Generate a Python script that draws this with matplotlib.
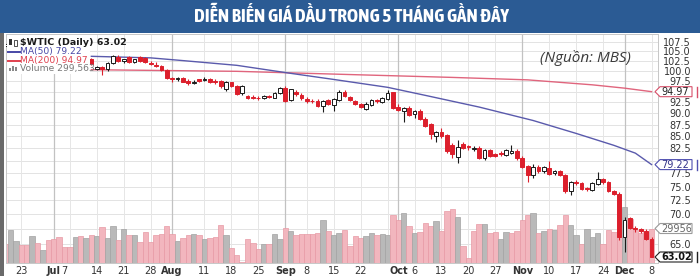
import matplotlib
matplotlib.use("Agg")
import matplotlib.pyplot as plt
from matplotlib.patches import Rectangle, Polygon
from matplotlib.lines import Line2D
from matplotlib.ticker import NullLocator, NullFormatter, FixedLocator, FixedFormatter
from matplotlib.transforms import Bbox
from matplotlib import font_manager

W, H = 700, 276

# ---------------- data (trading-day index 0 = Jun 23) ----------------
first_index = -3
opens = [106.5, 106.9, 106.4, 107.2, 106.2, 106.0, 106.5, 105.8, 105.7, 105.4,
         105.3, 104.5, 104.1, 103.5, 103.4, 102.3, 103.0, 100.6, 101.0, 100.4,
         101.9, 103.6, 102.4, 103.4, 102.3, 103.4, 103.2, 102.0, 101.6, 101.3,
         100.3, 98.2, 97.9, 98.3, 97.6, 97.0, 97.9, 97.8, 98.0, 97.6,
         97.5, 95.6, 97.2, 96.4, 94.6, 94.0, 93.8, 93.6, 93.4, 94.0,
         93.6, 94.6, 95.9, 93.0, 95.0, 94.2, 93.3, 92.9, 92.9, 91.6,
         93.0, 91.9, 93.0, 95.0, 93.8, 92.7, 92.1, 91.0, 91.8, 93.0,
         92.6, 93.3, 94.8, 91.5, 90.6, 91.3, 89.9, 90.6, 88.8, 87.6,
         85.0, 86.0, 85.2, 83.2, 80.8, 83.3, 82.9, 82.3, 82.5, 80.5,
         82.1, 81.3, 81.6, 81.2, 81.6, 82.0, 80.5, 78.9, 77.2, 78.8,
         77.9, 78.6, 77.6, 77.9, 77.1, 74.1, 75.9, 75.6, 74.7, 74.4,
         75.5, 76.4, 75.8, 74.1, 73.7, 66.2, 69.4, 67.6, 67.4, 67.2,
         65.9]
highs = [107.3, 107.0, 107.5, 107.3, 106.6, 106.7, 106.6, 106.1, 106.0, 106.0,
         105.5, 104.8, 104.3, 104.0, 103.6, 103.2, 103.2, 101.3, 101.3, 102.2,
         104.1, 104.0, 103.1, 103.8, 103.1, 103.7, 103.4, 102.6, 102.2, 101.6,
         100.6, 98.6, 98.6, 98.5, 98.0, 97.7, 98.1, 98.4, 98.2, 97.9,
         97.7, 97.6, 97.4, 96.6, 96.6, 94.3, 94.1, 93.9, 94.1, 94.2,
         95.0, 96.1, 96.2, 95.7, 95.4, 94.6, 93.7, 93.3, 93.2, 93.0,
         93.2, 93.5, 95.3, 95.3, 94.0, 93.0, 92.4, 92.5, 93.2, 93.3,
         93.8, 95.3, 95.0, 92.0, 91.4, 91.6, 90.7, 90.9, 89.1, 87.9,
         86.1, 86.8, 85.5, 83.5, 84.3, 83.7, 83.2, 82.9, 83.0, 82.4,
         82.4, 81.6, 81.9, 82.4, 83.1, 82.3, 80.9, 79.2, 79.3, 79.1,
         79.0, 80.0, 78.2, 78.1, 77.3, 76.1, 76.3, 75.9, 75.0, 75.9,
         77.8, 76.7, 76.1, 74.4, 74.0, 69.5, 69.6, 68.0, 67.7, 67.4,
         66.1]
lows = [106.2, 106.0, 106.2, 105.9, 105.6, 105.8, 105.6, 105.4, 105.0, 104.9,
        104.2, 103.8, 103.2, 103.0, 102.1, 102.0, 101.5, 100.2, 99.0, 100.1,
        101.7, 102.2, 102.1, 102.0, 102.1, 102.2, 102.0, 101.6, 101.1, 100.1,
        97.9, 97.4, 97.6, 97.2, 96.6, 96.7, 97.2, 97.5, 97.1, 96.9,
        95.9, 95.1, 96.0, 94.1, 94.2, 93.2, 93.3, 93.1, 93.2, 93.5,
        93.4, 94.4, 92.6, 92.8, 94.0, 93.1, 92.4, 92.3, 91.4, 90.3,
        91.8, 90.4, 92.8, 93.7, 92.8, 91.9, 91.1, 90.8, 91.6, 92.4,
        92.4, 93.1, 91.0, 90.5, 88.1, 89.5, 88.9, 88.6, 87.0, 84.5,
        83.7, 84.6, 81.5, 80.5, 79.6, 82.3, 82.2, 82.0, 80.3, 80.2,
        80.8, 80.7, 81.0, 81.0, 81.3, 80.2, 78.5, 75.9, 76.6, 77.6,
        77.5, 77.2, 77.2, 76.9, 73.8, 73.5, 75.2, 74.3, 74.1, 74.1,
        75.3, 75.5, 73.9, 73.4, 65.7, 63.7, 67.4, 67.0, 66.8, 65.6,
        62.9]
closes = [106.9, 106.4, 107.2, 106.2, 106.0, 106.5, 105.8, 105.7, 105.4, 105.3,
          104.5, 104.1, 103.5, 103.4, 102.3, 102.9, 101.7, 101.0, 100.4, 101.9,
          103.8, 102.4, 102.9, 102.3, 102.9, 102.4, 102.2, 101.7, 101.2, 100.3,
          98.2, 97.9, 98.3, 97.4, 97.0, 97.4, 97.5, 98.1, 97.3, 97.4,
          96.2, 97.3, 96.2, 94.4, 96.4, 93.6, 93.6, 93.4, 93.9, 93.8,
          94.7, 95.9, 92.9, 95.5, 94.4, 93.4, 92.7, 92.7, 91.7, 92.8,
          92.0, 93.2, 95.0, 94.0, 93.1, 92.2, 91.4, 92.2, 93.0, 92.7,
          93.6, 94.6, 91.2, 90.7, 91.2, 89.7, 90.4, 88.8, 87.3, 85.5,
          85.8, 85.0, 81.9, 81.4, 82.8, 82.6, 82.7, 82.6, 80.6, 82.1,
          81.0, 81.0, 81.3, 82.2, 81.9, 80.5, 78.8, 77.2, 78.7, 77.9,
          78.7, 77.4, 77.9, 77.2, 74.2, 75.8, 75.6, 74.6, 74.5, 75.6,
          76.5, 75.8, 74.1, 73.7, 66.1, 69.0, 67.7, 67.4, 67.2, 65.9,
          63.02]
volume_k = [165, 291, 194, 159, 159, 238, 179, 112, 200, 214,
            229, 144, 144, 229, 238, 217, 244, 238, 317, 217,
            323, 203, 302, 247, 247, 188, 273, 188, 244, 253,
            323, 258, 194, 220, 247, 258, 244, 209, 223, 229,
            332, 244, 135, 70, 12, 214, 179, 121, 165, 165,
            253, 214, 311, 282, 244, 253, 258, 258, 267, 379,
            282, 244, 267, 291, 150, 238, 223, 238, 267, 244,
            253, 244, 420, 379, 443, 326, 267, 276, 350, 326,
            370, 282, 458, 473, 405, 150, 47, 282, 341, 341,
            267, 273, 209, 273, 267, 282, 376, 420, 438, 267,
            282, 297, 288, 332, 423, 332, 250, 165, 300, 230,
            265, 170, 290, 270, 230, 490, 390, 290, 260, 270,
            299.563]
vol_colors = ("pggppgpgpp" "pppgpgpgpg" "gpgpgppppp" "ppgppgpgpp" "pgppppppgp"
              "ggpgpppppg" "pggppppggp" "ggppgpgppp" "gpppgppppg" "ppggppppgp"
              "gpgppggpgg" "gppppgpppp" "p")

ma50_idx = [13, 24, 30, 40, 50, 58, 68, 75, 85, 95, 103, 110, 114, 117]
ma50_val = [103.7, 103.3, 102.6, 101.4, 99.4, 97.9, 96.0, 94.1, 91.4, 88.4, 85.6, 83.1, 81.5, 79.22]
ma200_idx = [13, 40, 61, 80, 94, 106, 112, 117]
ma200_val = [100.3, 99.9, 99.1, 98.4, 97.8, 96.6, 95.8, 94.97]

price_ticks = [62.5, 65.0, 67.5, 70.0, 72.5, 75.0, 77.5, 80.0, 82.5, 85.0, 87.5,
               90.0, 92.5, 95.0, 97.5, 100.0, 102.5, 105.0, 107.5]
price_labels = ["", "65.0", "", "70.0", "72.5", "75.0", "77.5", "", "82.5", "85.0", "87.5",
                "90.0", "92.5", "", "97.5", "100.0", "102.5", "105.0", "107.5"]

date_pos = [0, 6, 8, 14, 19, 24, 28, 34, 39, 44, 49, 53, 58, 63, 70, 73, 78, 83, 88,
            93, 98, 103, 108, 112, 117]
date_lab = ["23", "Jul", "7", "14", "21", "28", "Aug", "11", "18", "25", "Sep", "8", "15",
            "22", "Oct", "6", "13", "20", "27", "Nov", "10", "17", "24", "Dec", "8"]
month_names = {"Jul", "Aug", "Sep", "Oct", "Nov", "Dec"}
month_lines = [6, 28, 49, 70, 93, 112]
week_lines = [0, 9, 14, 19, 24, 34, 39, 44, 53, 58, 63, 68, 73, 78, 83, 88, 98, 103, 108, 117]

TITLE = "DIỄN BIẾN GIÁ DẦU TRONG 5 THÁNG GẦN ĐÂY"

# ---------------- figure ----------------
def fx(x):
    return x / W

def fy(y):
    return 1 - y / H

fig = plt.figure(figsize=(7.0, 2.76), dpi=100)
fig.patch.set_facecolor("white")

L_PX, R_PX, T_PX, B_PX = 6, 658, 34, 263
rect = [fx(L_PX), fy(B_PX), fx(R_PX) - fx(L_PX), fy(T_PX) - fy(B_PX)]
XMIN, XMAX = -2.85, 118.2
PMIN, PMAX = 62.01, 109.62

ax_vol = fig.add_axes(rect)
ax = fig.add_axes(rect, sharex=ax_vol)
ax.patch.set_visible(False)

ax.set_yscale("log")
ax.set_ylim(PMIN, PMAX)
ax.set_xlim(XMIN, XMAX)
ax_vol.set_ylim(0, 2017e3)

# grid (drawn in the bottom axes)
for p in price_ticks:
    ax_vol.add_line(Line2D([XMIN, XMAX], [p, p], transform=ax.transData,
                           color="#e3e3e3", lw=0.7, zorder=0))
for xw in week_lines:
    ax_vol.axvline(xw, color="#e6e6e6", lw=0.7, zorder=0)
for xm in month_lines:
    ax_vol.axvline(xm, color="#c2c2c2", lw=0.9, zorder=0)

# volume
xs = [first_index + k for k in range(len(closes))]
vface = ["#b9b9b9" if c == "g" else "#f2b6be" for c in vol_colors]
vedge = ["#a2a2a2" if c == "g" else "#e79aa5" for c in vol_colors]
ax_vol.bar(xs, [v * 1000 for v in volume_k], width=1.0, color=vface,
           edgecolor=vedge, linewidth=0.5, zorder=1)

# moving averages
ax.plot(ma200_idx, ma200_val, color="#e0657d", lw=1.0, zorder=2)
ax.plot(ma50_idx, ma50_val, color="#5a5aac", lw=1.0, zorder=2)

# candles
RED = "#dc1f2c"
for x, o, h, l, c in zip(xs, opens, highs, lows, closes):
    up = c >= o
    col = "#1a1a1a" if up else RED
    ax.vlines(x, l, h, color=col, lw=0.8, zorder=3)
    lo, hi = min(o, c), max(o, c)
    ax.bar(x, hi - lo, bottom=lo, width=0.7,
           color="white" if up else RED, edgecolor=col, linewidth=0.7, zorder=4)

# axes styling
for a in (ax, ax_vol):
    for s in a.spines.values():
        s.set_color("#c8c8c8")
        s.set_linewidth(0.7)
ax_vol.set_yticks([])
ax_vol.tick_params(axis="x", which="both", bottom=False, labelbottom=False)

ax.yaxis.set_major_locator(FixedLocator(price_ticks))
ax.yaxis.set_major_formatter(FixedFormatter(price_labels))
ax.yaxis.set_minor_locator(NullLocator())
ax.yaxis.set_minor_formatter(NullFormatter())
ax.yaxis.tick_right()
ax.tick_params(axis="y", which="major", length=0, pad=23.8, labelsize=7, labelcolor="#333333")
for lab in ax.get_yticklabels():
    lab.set_horizontalalignment("right")

ax.set_xticks(date_pos)
ax.set_xticklabels(date_lab)
ax.tick_params(axis="x", length=0, pad=2.0, labelsize=7, labelcolor="#333333")
for lab in ax.get_xticklabels():
    if lab.get_text() in month_names:
        lab.set_fontweight("bold")

# ---------------- decorations ----------------
# title band
fig.patches.append(Rectangle((0, fy(33)), 1, 1 - fy(33), transform=fig.transFigure,
                             facecolor="#2b5b94", edgecolor="none", zorder=1))

# pick a condensed bold face if one is installed
cond_family = None
for f in font_manager.fontManager.ttflist:
    n = f.name.lower()
    if ("condensed" in n or "narrow" in n) and f.weight in (700, "bold"):
        cond_family = f.name
        break
if cond_family is None:
    for f in font_manager.fontManager.ttflist:
        if f.stretch in ("condensed", "semi-condensed", "extra-condensed") and f.weight in (700, "bold"):
            cond_family = f.name
            break
title_kw = dict(ha="center", va="center", color="white", fontweight="bold", zorder=5)
if cond_family is not None:
    ttl = fig.text(fx(351), fy(16.5), TITLE, fontsize=14.5,
                   family=[cond_family, "DejaVu Sans"], fontstretch="condensed", **title_kw)
else:
    ttl = fig.text(fx(351), fy(16.5), TITLE, fontsize=15,
                   family=["Roboto", "DejaVu Sans"], **title_kw)
# shrink to the reference width (~312 px)
fig.canvas.draw()
bb = ttl.get_window_extent()
if bb.width > 320:
    ttl.set_fontsize(ttl.get_fontsize() * 314.0 / bb.width)

# left strip
fig.patches.append(Rectangle((0, 0), fx(3.5), fy(33), transform=fig.transFigure,
                             facecolor="#6a6a6a", edgecolor="none", zorder=1))

# legend block (white background)
fig.patches.append(Rectangle((fx(6.5), fy(74)), fx(89.5) - fx(6.5), fy(34.5) - fy(74),
                             transform=fig.transFigure, facecolor="white",
                             edgecolor="none", zorder=1))
# icons
fig.patches.append(Rectangle((fx(9), fy(45)), fx(3), fy(39) - fy(45), transform=fig.transFigure,
                             facecolor="#333333", edgecolor="none", zorder=2))
fig.patches.append(Rectangle((fx(13.5), fy(46)), fx(3), fy(40) - fy(46), transform=fig.transFigure,
                             facecolor="white", edgecolor="#333333", lw=0.6, zorder=2))
for k, hh in enumerate([3, 5, 4]):
    fig.patches.append(Rectangle((fx(9 + 3 * k), fy(71)), fx(2.3), fy(71 - hh) - fy(71),
                                 transform=fig.transFigure, facecolor="#888888",
                                 edgecolor="none", zorder=2))

fig.text(fx(20), fy(42.5), "$WTIC (Daily) 63.02", ha="left", va="center",
         fontsize=6.8, fontweight="bold", color="#1a1a1a", zorder=5)
fig.lines.append(Line2D([fx(8), fx(20)], [fy(51.5), fy(51.5)], transform=fig.transFigure,
                        color="#4848a6", lw=1.4, zorder=5))
fig.text(fx(20.5), fy(51.5), "MA(50) 79.22", ha="left", va="center",
         fontsize=6.6, color="#4848a6", zorder=5)
fig.lines.append(Line2D([fx(8), fx(20)], [fy(60.5), fy(60.5)], transform=fig.transFigure,
                        color="#e0404e", lw=1.4, zorder=5))
fig.text(fx(20.5), fy(60.5), "MA(200) 94.97", ha="left", va="center",
         fontsize=6.6, color="#e0404e", zorder=5)
fig.text(fx(20.5), fy(68.5), "Volume 299,563", ha="left", va="center",
         fontsize=6.6, color="#777777", zorder=5)

# source
fig.text(fx(585), fy(58), "(Nguồn: MBS)", ha="center", va="center", fontsize=11,
         style="italic", family=["Open Sans", "DejaVu Sans"], color="#3a3a3a", zorder=5)

# value tags on the right axis
def tag(ypx, text, edge, tcolor, bar=True, bold=False):
    pts = [(655, ypx), (660, ypx - 5), (692, ypx - 5), (692, ypx + 5), (660, ypx + 5)]
    fig.patches.append(Polygon([(fx(a), fy(b)) for a, b in pts], closed=True,
                               transform=fig.transFigure, facecolor="white",
                               edgecolor=edge, lw=0.8, zorder=6))
    t = fig.text(fx(661), fy(ypx + 0.3), text, ha="left", va="center", fontsize=7,
                 color=tcolor, fontweight="bold" if bold else "normal", zorder=7)
    t.set_clip_box(Bbox.from_extents(655, fy(ypx + 5) * H, 691, fy(ypx - 5) * H))
    t.set_clip_on(True)
    if bar:
        fig.lines.append(Line2D([fx(697), fx(697)], [fy(ypx - 5), fy(ypx + 5)],
                                transform=fig.transFigure, color=edge, lw=1.0, zorder=6))

tag(91.7, "94.97", "#d8506a", "#222222")
tag(164.6, "79.22", "#5050b0", "#33338a")
tag(228.5, "299563", "#9a9a9a", "#666666", bar=False)
tag(257.0, "63.02", "#222222", "#111111", bold=True)

fig.savefig("out.png", dpi=100, facecolor="white")
